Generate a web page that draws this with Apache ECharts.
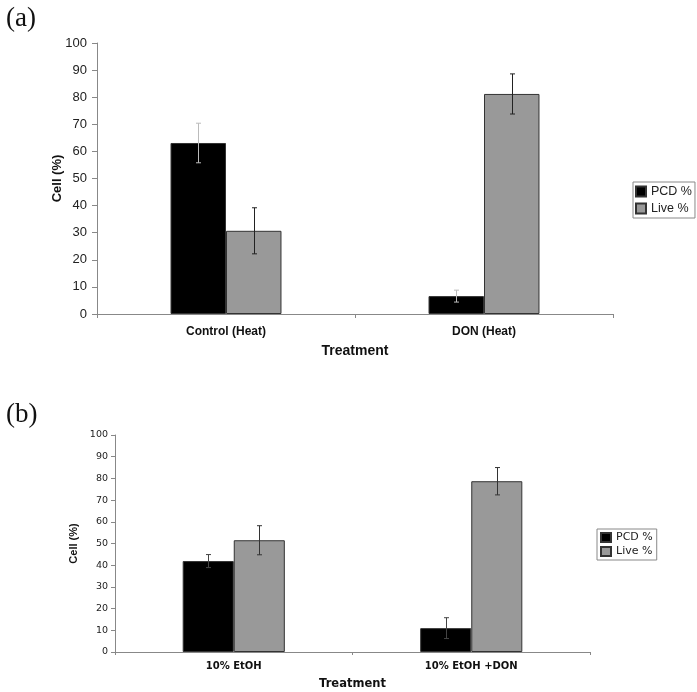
<!DOCTYPE html>
<html>
<head>
<meta charset="utf-8">
<script src="https://cdn.jsdelivr.net/npm/echarts@6/dist/echarts.min.js"></script>
<style>html,body{margin:0;padding:0;background:#fff;}#c{width:697px;height:692px;}</style>
</head>
<body>
<div id="c"></div>
<script>
// ---- data ----
const seriesNames = ['PCD %', 'Live %'];
const categoriesA = ['Control (Heat)', 'DON (Heat)'];
const pcdA = [63.1, 6.6];
const pcdErrA = [7.3, 2.2];
const liveA = [30.7, 81.2];
const liveErrA = [8.5, 7.4];

const categoriesB = ['10% EtOH', '10% EtOH +DON'];
const pcdB = [41.9, 11.0];
const pcdErrB = [3.0, 4.8];
const liveB = [51.5, 78.7];
const liveErrB = [6.7, 6.3];

const yTicks = [0, 10, 20, 30, 40, 50, 60, 70, 80, 90, 100];

// ---- chart ----
const GAP = 0.57;
const chart = echarts.init(document.getElementById('c'), null, {renderer: 'canvas'});

function errSeries(name, xi, vals, errs, side, color, capHalf) {
  return {
    type: 'custom', name: name, xAxisIndex: xi, yAxisIndex: xi, z: 5,
    data: vals.map((v, i) => [i, v, errs[i]]),
    renderItem: function (params, api) {
      const c = api.value(0), v = api.value(1), e = api.value(2);
      const catW = api.size([1, 0])[0];
      const barW = catW * (1 - GAP) / 2;
      const p = api.coord([c, v]);
      const x = Math.round(p[0] + side * barW / 2) + 0.5;
      const hi = api.coord([c, v + e])[1];
      const lo = api.coord([c, v - e])[1];
      const st = {stroke: color, lineWidth: 1};
      return {type: 'group', children: [
        {type: 'line', shape: {x1: x, y1: hi, x2: x, y2: lo}, style: st},
        {type: 'line', shape: {x1: x - capHalf, y1: hi, x2: x + capHalf, y2: hi}, style: st},
        {type: 'line', shape: {x1: x - capHalf, y1: lo, x2: x + capHalf, y2: lo}, style: st}
      ]};
    }
  };
}

const axisLine = {lineStyle: {color: '#888', width: 1}};
const barStyle = (fill) => ({color: fill, borderColor: '#333', borderWidth: 1});

const option = {
  animation: false,
  backgroundColor: '#fff',
  title: [
    {text: '(a)', left: 1, top: 0, textStyle: {fontFamily: 'Liberation Serif', fontSize: 27, fontWeight: 'normal', color: '#111'}},
    {text: '(b)', left: 1, top: 396, textStyle: {fontFamily: 'Liberation Serif', fontSize: 27, fontWeight: 'normal', color: '#111'}}
  ],
  legend: [
    {data: seriesNames, orient: 'vertical', left: 633, top: 182, padding: [3, 3, 3, 2], itemGap: 4,
     itemWidth: 10, itemHeight: 10, icon: 'rect', borderColor: '#888', borderWidth: 1,
     textStyle: {fontFamily: 'Liberation Sans', fontSize: 12.5, color: '#222'}},
    {data: seriesNames, orient: 'vertical', left: 597, top: 529, padding: [3, 4, 3, 3], itemGap: 3,
     itemWidth: 10, itemHeight: 9, icon: 'rect', borderColor: '#888', borderWidth: 1,
     textStyle: {fontFamily: 'DejaVu Sans', fontSize: 11, color: '#222'}}
  ],
  grid: [
    {left: 97, right: 84, top: 43, bottom: 378},
    {left: 115, right: 107, top: 435, bottom: 40}
  ],
  xAxis: [
    {type: 'category', gridIndex: 0, data: categoriesA, axisLine: axisLine,
     axisTick: {show: true, length: 4, lineStyle: {color: '#888'}},
     axisLabel: {fontFamily: 'Liberation Sans', fontWeight: 'bold', fontSize: 12, color: '#111', margin: 12},
     name: 'Treatment', nameLocation: 'middle', nameGap: 30,
     nameTextStyle: {fontFamily: 'Liberation Sans', fontWeight: 'bold', fontSize: 14, color: '#111'}},
    {type: 'category', gridIndex: 1, data: categoriesB, axisLine: axisLine,
     axisTick: {show: true, length: 3, lineStyle: {color: '#888'}},
     axisLabel: {fontFamily: 'DejaVu Sans', fontWeight: 'bold', fontSize: 10, color: '#111', margin: 9},
     name: 'Treatment', nameLocation: 'middle', nameGap: 26,
     nameTextStyle: {fontFamily: 'DejaVu Sans', fontWeight: 'bold', fontSize: 11.5, color: '#111'}}
  ],
  yAxis: [
    {type: 'value', gridIndex: 0, min: yTicks[0], max: yTicks[yTicks.length - 1], interval: 10,
     axisLine: {show: true, lineStyle: {color: '#888'}},
     axisTick: {show: true, length: 5, lineStyle: {color: '#888'}},
     splitLine: {show: false},
     axisLabel: {fontFamily: 'Liberation Sans', fontSize: 13, color: '#222', margin: 10},
     name: 'Cell (%)', nameLocation: 'middle', nameGap: 33, nameRotate: 90, nameMoveOverlap: false,
     nameTextStyle: {fontFamily: 'Liberation Sans', fontWeight: 'bold', fontSize: 13, color: '#111'}},
    {type: 'value', gridIndex: 1, min: yTicks[0], max: yTicks[yTicks.length - 1], interval: 10,
     axisLine: {show: true, lineStyle: {color: '#888'}},
     axisTick: {show: true, length: 4, lineStyle: {color: '#888'}},
     splitLine: {show: false},
     axisLabel: {fontFamily: 'DejaVu Sans', fontSize: 9.5, color: '#222', margin: 7},
     name: 'Cell (%)', nameLocation: 'middle', nameGap: 36, nameRotate: 90, nameMoveOverlap: false,
     nameTextStyle: {fontFamily: 'Liberation Sans', fontWeight: 'bold', fontSize: 11, color: '#111'}}
  ],
  series: [
    {type: 'bar', name: seriesNames[0], xAxisIndex: 0, yAxisIndex: 0, data: pcdA,
     barGap: '0%', barCategoryGap: (GAP * 100) + '%', itemStyle: barStyle('#000')},
    {type: 'bar', name: seriesNames[1], xAxisIndex: 0, yAxisIndex: 0, data: liveA,
     barGap: '0%', barCategoryGap: (GAP * 100) + '%', itemStyle: barStyle('#999')},
    {type: 'bar', name: seriesNames[0], xAxisIndex: 1, yAxisIndex: 1, data: pcdB,
     barGap: '0%', barCategoryGap: (GAP * 100) + '%', itemStyle: barStyle('#000')},
    {type: 'bar', name: seriesNames[1], xAxisIndex: 1, yAxisIndex: 1, data: liveB,
     barGap: '0%', barCategoryGap: (GAP * 100) + '%', itemStyle: barStyle('#999')},
    errSeries('errPcdA', 0, pcdA, pcdErrA, -1, '#bbb', 2.5),
    errSeries('errLiveA', 0, liveA, liveErrA, 1, '#222', 2.5),
    errSeries('errPcdB', 1, pcdB, pcdErrB, -1, '#444', 2.5),
    errSeries('errLiveB', 1, liveB, liveErrB, 1, '#333', 2.5)
  ]
};
chart.setOption(option);
</script>
</body>
</html>
